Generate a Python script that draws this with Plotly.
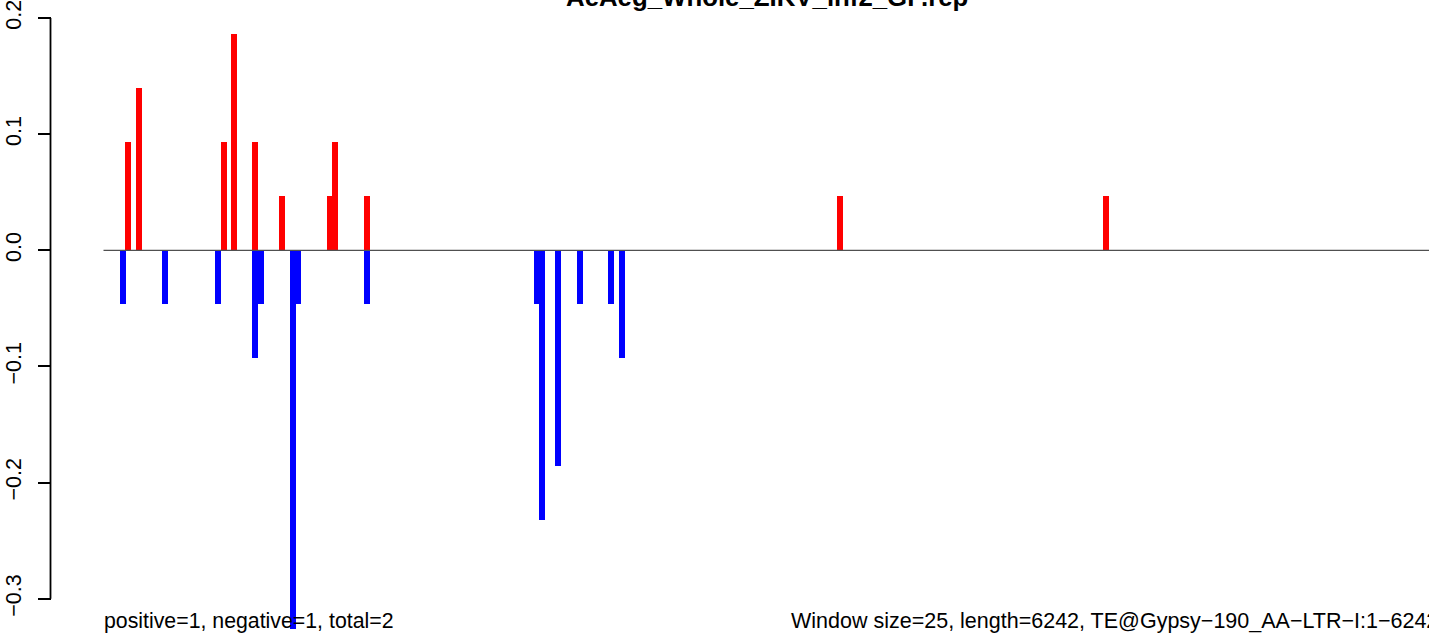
import plotly.graph_objects as go

# ---- data ----
title_text = "AeAeg_Whole_ZIKV_inf2_GP.rep"
window_size = 25
seq_length = 6242
pos_windows = [4, 6, 22, 24, 28, 33, 42, 43, 49, 138, 188]
pos_values = [0.0930, 0.1395, 0.0930, 0.1860, 0.0930, 0.0465, 0.0465, 0.0930, 0.0465, 0.0465, 0.0465]
neg_windows = [3, 11, 21, 28, 29, 35, 36, 49, 81, 82, 85, 89, 95, 97]
neg_values = [-0.0465, -0.0465, -0.0465, -0.0930, -0.0465, -0.3256, -0.0465, -0.0465,
              -0.0465, -0.2326, -0.1860, -0.0465, -0.0465, -0.0930]
y_tick_vals = [-0.3, -0.2, -0.1, 0.0, 0.1, 0.2]
y_tick_text = ["\u22120.3", "\u22120.2", "\u22120.1", "0.0", "0.1", "0.2"]
left_note = "positive=1, negative=1, total=2"
right_note = "Window size=25, length=6242, TE@Gypsy\u2212190_AA\u2212LTR\u2212I:1\u22126242"

# ---- layout geometry ----
W, H = 1429, 634
px_per_bp = 0.21254
plot_left = 103.5
axis_x = 50.5
x_max = (W - plot_left) / px_per_bp
y_top = 248.5 / 1167.0
y_bot = -(H - 248.5) / 1167.0
bar_w = 6 / px_per_bp

pos_x = [i * window_size + window_size / 2 for i in pos_windows]
neg_x = [i * window_size + window_size / 2 for i in neg_windows]

fig = go.Figure()
fig.add_trace(go.Bar(x=pos_x, y=pos_values, width=bar_w, marker=dict(color="#FF0000", line=dict(width=0)),
                     showlegend=False, hoverinfo="x+y"))
fig.add_trace(go.Bar(x=neg_x, y=neg_values, width=bar_w, marker=dict(color="#0000FF", line=dict(width=0)),
                     showlegend=False, hoverinfo="x+y"))

font_family = "Liberation Sans, Arial, Helvetica, sans-serif"

fig.update_layout(
    width=W, height=H,
    margin=dict(l=0, r=0, t=0, b=0),
    paper_bgcolor="white", plot_bgcolor="white",
    barmode="overlay", bargap=0,
    font=dict(family=font_family, color="black"),
    xaxis=dict(domain=[plot_left / W, 1], range=[0, x_max], visible=False, fixedrange=True),
    yaxis=dict(range=[y_bot, y_top], anchor="free", position=axis_x / W,
               tickvals=y_tick_vals, ticktext=y_tick_text, tickangle=-90,
               tickfont=dict(size=21.5, family=font_family, color="black"),
               ticks="outside", ticklen=13, tickwidth=1.8, tickcolor="black",
               ticklabeloverflow="allow",
               showline=False, showgrid=False, zeroline=False, ticklabelstandoff=8),
    shapes=[
        dict(type="line", xref="paper", yref="y", x0=axis_x / W, x1=axis_x / W,
             y0=y_tick_vals[0], y1=y_tick_vals[-1], line=dict(color="black", width=1.8)),
        dict(type="line", xref="paper", yref="y", x0=plot_left / W, x1=1, y0=0, y1=0,
             line=dict(color="#505050", width=1.3), layer="above"),
    ],
    annotations=[
        dict(text="<b>" + title_text + "</b>", xref="paper", yref="paper", x=766.8 / W, y=1 + 6 / H,
             xanchor="center", yanchor="middle", showarrow=False, font=dict(size=25.8, family=font_family)),
        dict(text=left_note, xref="paper", yref="paper", x=102 / W, y=1 - 621 / H,
             xanchor="left", yanchor="middle", showarrow=False, font=dict(size=21.3, family=font_family)),
        dict(text=right_note, xref="paper", yref="paper", x=789 / W, y=1 - 621 / H,
             xanchor="left", yanchor="middle", showarrow=False, font=dict(size=21.5, family=font_family)),
    ],
)

fig.write_html("out.html", config={"displayModeBar": False},
               post_script="document.body.style.margin='0';document.body.style.overflow='hidden';")
